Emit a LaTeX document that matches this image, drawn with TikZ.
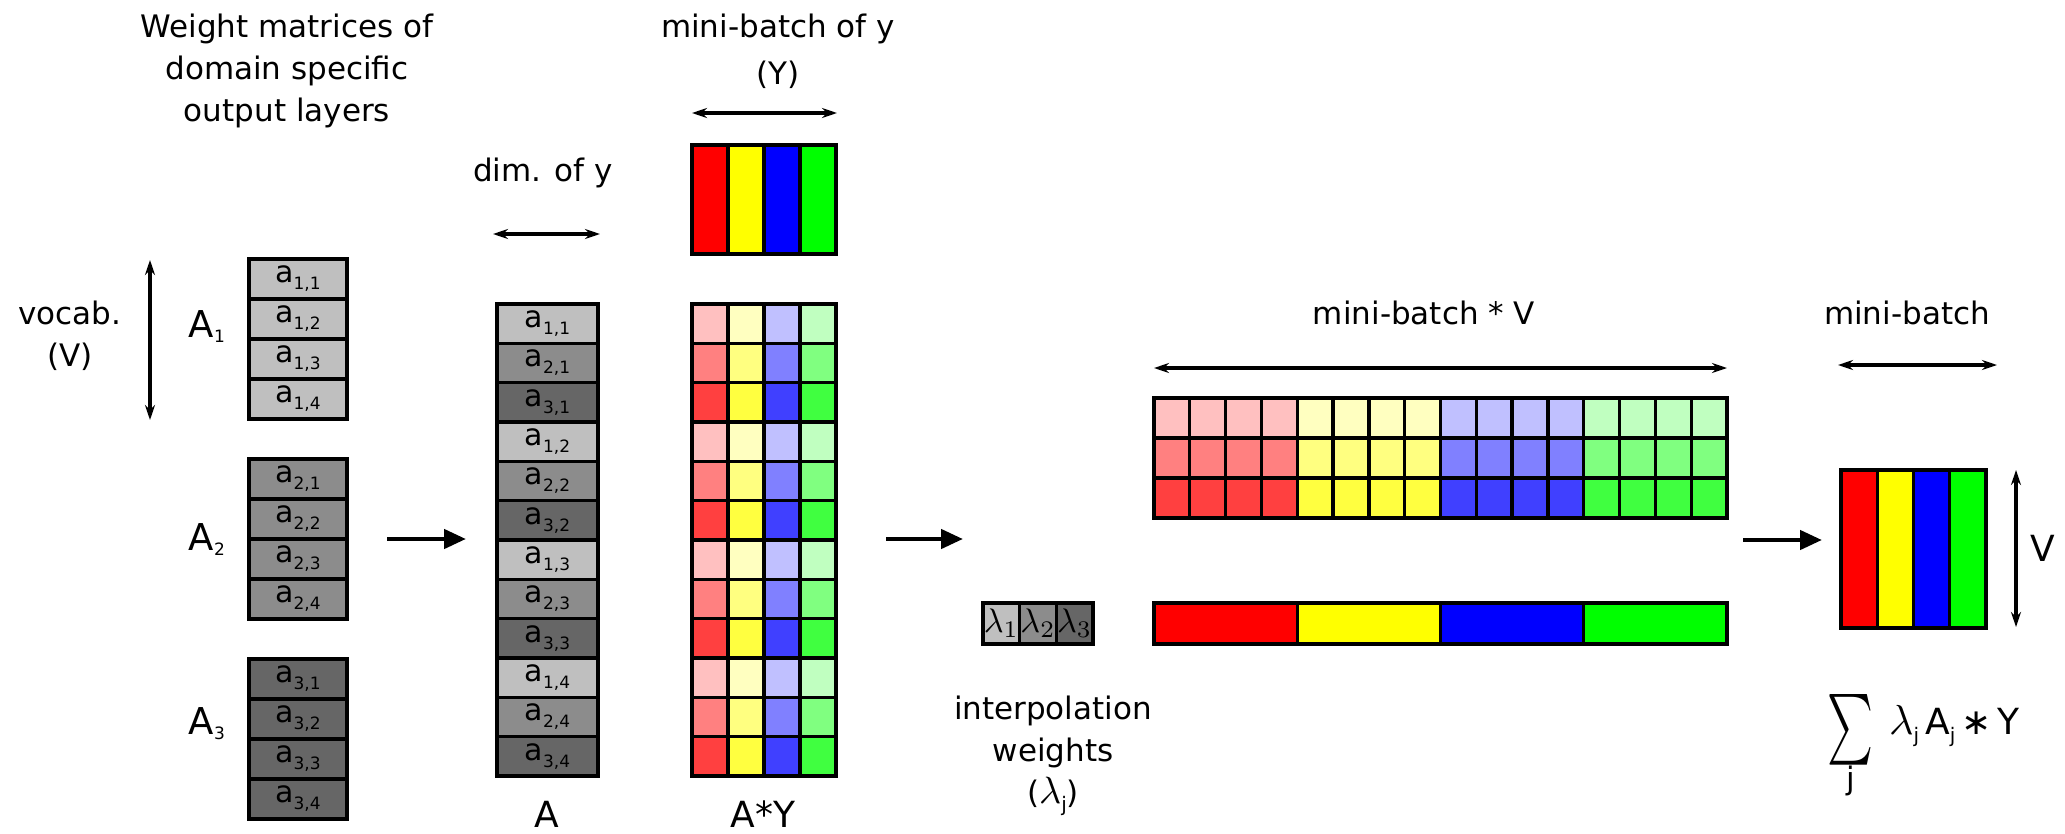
\documentclass[tikz,border=0pt]{standalone}
\usepackage{fontspec}
\setmainfont{DejaVu Sans}
\usetikzlibrary{arrows.meta}
\definecolor{gL}{RGB}{191,191,191}
\definecolor{gM}{RGB}{140,140,140}
\definecolor{gD}{RGB}{102,102,102}
\definecolor{yf0}{RGB}{255,0,0}
\definecolor{yf1}{RGB}{255,255,0}
\definecolor{yf2}{RGB}{0,0,255}
\definecolor{yf3}{RGB}{0,255,0}
\definecolor{ay00}{RGB}{255,192,192}
\definecolor{ay10}{RGB}{255,255,192}
\definecolor{ay20}{RGB}{192,192,255}
\definecolor{ay30}{RGB}{192,255,192}
\definecolor{ay01}{RGB}{255,128,128}
\definecolor{ay11}{RGB}{255,255,128}
\definecolor{ay21}{RGB}{128,128,255}
\definecolor{ay31}{RGB}{128,255,128}
\definecolor{ay02}{RGB}{255,64,64}
\definecolor{ay12}{RGB}{255,255,64}
\definecolor{ay22}{RGB}{64,64,255}
\definecolor{ay32}{RGB}{64,255,64}
\newcommand{\mycellab}[2]{a\raisebox{-7pt}{\fontsize{17}{17}\selectfont #1,#2}}
\newcommand{\myAsub}[1]{A\raisebox{-5pt}{\fontsize{17}{17}\selectfont #1}}
\newcommand{\mylsub}[1]{\raisebox{-8pt}{\fontsize{20}{20}\selectfont #1}}
\newcommand{\mylam}[1]{{\fontsize{10}{12}\selectfont\scalebox{#1}{$\lambda$}}}
\tikzset{
 box/.style={draw=black, line width=3.3pt, inner sep=0pt, outer sep=0pt},
 acell/.style={box, minimum width=98pt, minimum height=40pt, font=\fontsize{30}{30}\selectfont},
 colcell/.style={box, minimum width=101pt, minimum height=39.333pt, font=\fontsize{30}{30}\selectfont},
 aycell/.style={box, minimum width=36pt, minimum height=39.333pt},
 ycell/.style={box, minimum width=36pt, minimum height=109pt},
 gridcell/.style={box, minimum width=35.8125pt, minimum height=40pt},
 barcell/.style={box, minimum width=143.25pt, minimum height=41pt},
 rescell/.style={box, minimum width=36.25pt, minimum height=158pt},
 lamcell/.style={box, minimum width=36.667pt, minimum height=41pt},
 lab/.style={inner sep=0pt, align=center, font=\fontsize{31}{42}\selectfont},
 biglab/.style={inner sep=0pt, font=\fontsize{37}{37}\selectfont},
 mainarr/.style={line width=4.5pt, -{Triangle[length=22pt,width=19pt]}},
 dblarr/.style={line width=3.3pt, {Stealth[length=15pt,width=10pt]}-{Stealth[length=15pt,width=10pt]}}
}
\begin{document}
\begin{tikzpicture}[x=1pt,y=-1pt]
\useasboundingbox (0,0) rectangle (2065,833);
% left stacks
\foreach \i/\c/\top/\ly in {1/gL/259/327, 2/gM/459/540, 3/gD/659/724} {
  \foreach \k in {1,...,4} {
    \node[acell, fill=\c] (A\i-\k) at (298, {\top+40*\k-20}) {\mycellab{\i}{\k}};
  }
  \node[biglab] (LA\i) at (207,\ly) {\myAsub{\i}};
}
\node[lab] (wtitle) at (287,71) {Weight matrices of\\domain specific\\output layers};
\node[lab] (vocab) at (70,336) {vocab.\\(V)};
\coordinate (vtop) at (150,260);
\coordinate (vbot) at (150,420);
\draw[dblarr] (vtop) -- (vbot);
% A column
\foreach \n/\i/\k/\c in {0/1/1/gL,1/2/1/gM,2/3/1/gD,3/1/2/gL,4/2/2/gM,5/3/2/gD,6/1/3/gL,7/2/3/gM,8/3/3/gD,9/1/4/gL,10/2/4/gM,11/3/4/gD}
  \node[colcell, fill=\c] (Acol-\n) at (547.5, {323.667+39.333*\n}) {\mycellab{\i}{\k}};
\node[lab] (dimy) at (543,173) {dim. of y};
\coordinate (dl) at (493,234);
\coordinate (dr) at (600,234);
\draw[dblarr] (dl) -- (dr);
\node[biglab, font=\fontsize{36}{36}\selectfont] (Alab) at (547,814) {A};
% Y block
\foreach \c in {0,...,3}
  \node[ycell, fill=yf\c] (Y-\c) at ({710+36*\c}, 199.5) {};
\node[lab, font=\fontsize{31}{47}\selectfont] (mbtitle) at (778,51) {mini-batch of y\\(Y)};
\coordinate (ml) at (692,113);
\coordinate (mr) at (837,113);
\draw[dblarr] (ml) -- (mr);
% AY grid
\foreach \r in {0,...,11} {
  \pgfmathtruncatemacro{\s}{mod(\r,3)}
  \foreach \c in {0,...,3} {
    \node[aycell, fill=ay\c\s] (AY-\r-\c) at ({710+36*\c}, {323.667+39.333*\r}) {};
  }
}
\node[biglab, font=\fontsize{36}{36}\selectfont] (AYlab) at (763,814) {A*Y};
% main arrows
\coordinate (m1s) at (387,539);
\coordinate (m1e) at (466,539);
\draw[mainarr] (m1s) -- (m1e);
\coordinate (m2s) at (886,539);
\coordinate (m2e) at (963,539);
\draw[mainarr] (m2s) -- (m2e);
\coordinate (m3s) at (1743,540);
\coordinate (m3e) at (1822,540);
\draw[mainarr] (m3s) -- (m3e);
% big grid
\foreach \s in {0,1,2} {
  \foreach \j in {0,...,15} {
    \pgfmathtruncatemacro{\c}{floor(\j/4)}
    \node[gridcell, fill=ay\c\s] (G-\s-\j) at ({1154+35.8125*(\j+0.5)}, {418+40*\s}) {};
  }
}
\node[lab] (mbv) at (1424,313) {mini-batch * V};
\coordinate (gl) at (1154,368);
\coordinate (gr) at (1727,368);
\draw[dblarr] (gl) -- (gr);
% bar
\foreach \c in {0,...,3}
  \node[barcell, fill=yf\c] (B-\c) at ({1154+143.25*(\c+0.5)}, 623.5) {};
% lambdas
\foreach \i/\c in {1/gL,2/gM,3/gD}
  \node[lamcell, fill=\c] (L-\i) at ({983+36.667*(\i-0.5)}, 623.5) {\scalebox{3.4}{$\lambda_{\i}$}};
\node[lab] (interp) at (1053,756) {interpolation\\weights\\(\mylam{3.8}\mylsub{j})};
% result
\foreach \c in {0,...,3}
  \node[rescell, fill=yf\c] (R-\c) at ({1841+36.25*(\c+0.5)}, 549) {};
\node[lab] (mb) at (1907,313) {mini-batch};
\coordinate (rl) at (1838,365);
\coordinate (rr) at (1997,365);
\draw[dblarr] (rl) -- (rr);
\coordinate (rt) at (2016,470);
\coordinate (rb) at (2016,627);
\draw[dblarr] (rt) -- (rb);
\node[biglab, font=\fontsize{36}{36}\selectfont] (Vlab) at (2043,548) {V};
% formula
\node[inner sep=0pt] (sig) at (1850,729.5) {\resizebox{46pt}{53pt}{$\sum$}};
\node[lab] (sj) at (1851,781) {j};
\node[inner sep=0pt, anchor=west, font=\fontsize{36}{36}\selectfont] (expr) at (1889,726) {\mylam{4.2}\mylsub{j}\,A\mylsub{j}\,∗\,Y};
\end{tikzpicture}
\end{document}
